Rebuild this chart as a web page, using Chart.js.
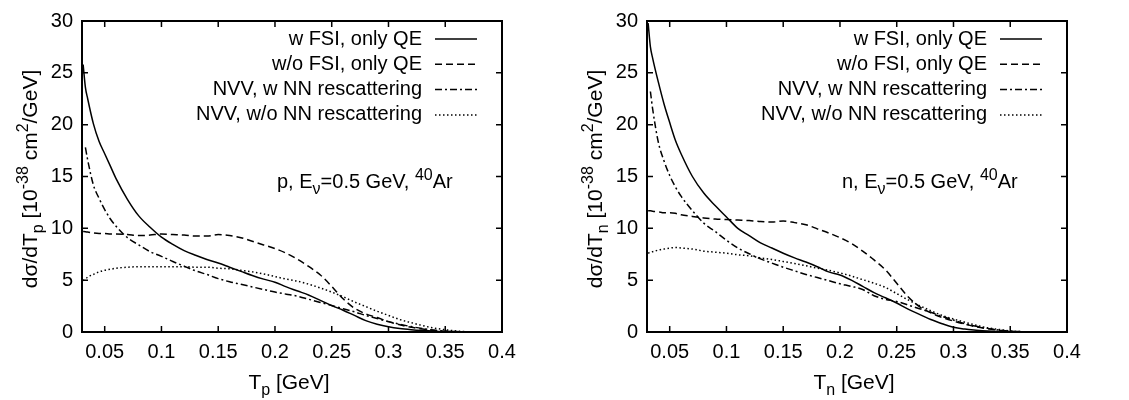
<!DOCTYPE html>
<html>
<head>
<meta charset="utf-8">
<script src="https://cdn.jsdelivr.net/npm/chart.js@4.4.0/dist/chart.umd.min.js"></script>
<style>
  html, body { margin: 0; padding: 0; background: #fff; }
  #wrap { position: relative; width: 1129px; height: 400px; }
  .panel { position: absolute; top: 0; height: 400px; }
  #left { left: 0; width: 565px; }
  #right { left: 565px; width: 564px; }
</style>
</head>
<body>
<div id="wrap">
  <div class="panel" id="left"><canvas id="chartP"></canvas></div>
  <div class="panel" id="right"><canvas id="chartN"></canvas></div>
</div>
<script>
//---------------------------------------- data
// nucleon kinetic energy T [GeV], shared grid for all curves
const tGrid = [0.031, 0.033, 0.035, 0.04, 0.045, 0.05, 0.055, 0.06, 0.07, 0.08, 0.09,
               0.1, 0.11, 0.12, 0.13, 0.14, 0.15, 0.16, 0.17, 0.18, 0.19,
               0.2, 0.21, 0.22, 0.23, 0.24, 0.25, 0.26, 0.27, 0.28, 0.29,
               0.3, 0.31, 0.32, 0.33, 0.34, 0.35, 0.36, 0.37, 0.38];
const xTicks = [0.05, 0.1, 0.15, 0.2, 0.25, 0.3, 0.35, 0.4];
const yTicks = [0, 5, 10, 15, 20, 25, 30];
const seriesNames = ['w FSI, only QE', 'w/o FSI, only QE', 'NVV, w NN rescattering', 'NVV, w/o NN rescattering'];

// proton, E_nu = 0.5 GeV, 40Ar
const pFsiQE   = [25.8, 23.6, 22.5, 20.1, 18.4, 17.2, 16.0, 14.8, 12.8, 11.2, 10.1,
                  9.15, 8.45, 7.85, 7.4, 7.0, 6.65, 6.25, 5.85, 5.45, 5.1,
                  4.8, 4.35, 3.95, 3.55, 3.05, 2.55, 2.1, 1.6, 1.1, 0.75,
                  0.5, 0.33, 0.22, 0.14, 0.08, 0.05, 0.03, 0.02, 0.01];
const pNoFsiQE = [9.7, 9.68, 9.65, 9.55, 9.5, 9.5, 9.45, 9.45, 9.4, 9.3, 9.35,
                  9.45, 9.4, 9.35, 9.25, 9.25, 9.4, 9.3, 9.1, 8.75, 8.4,
                  8.05, 7.6, 7.0, 6.3, 5.5, 4.4, 3.2, 2.3, 1.75, 1.4,
                  1.0, 0.7, 0.45, 0.28, 0.16, 0.08, 0.04, 0.02, 0.01];
const pNvvNN   = [null, 17.8, 16.6, 14.2, 12.9, 11.8, 10.9, 10.2, 9.1, 8.4, 7.75,
                  7.3, 6.8, 6.35, 5.9, 5.55, 5.15, 4.85, 4.6, 4.35, 4.1,
                  3.85, 3.65, 3.45, 3.15, 2.85, 2.55, 2.25, 1.95, 1.6, 1.3,
                  1.0, 0.75, 0.52, 0.33, 0.18, 0.08, 0.03, 0.01, 0];
const pNvvNoNN = [4.95, 5.1, 5.3, 5.55, 5.8, 5.95, 6.05, 6.15, 6.25, 6.3, 6.3,
                  6.3, 6.3, 6.3, 6.25, 6.25, 6.15, 6.1, 5.95, 5.8, 5.6,
                  5.35, 5.1, 4.9, 4.6, 4.25, 3.85, 3.4, 2.9, 2.45, 2.0,
                  1.6, 1.2, 0.9, 0.62, 0.38, 0.22, 0.1, 0.03, 0];

// neutron, E_nu = 0.5 GeV, 40Ar
const nFsiQE   = [29.8, 27.5, 26.4, 24.1, 22.0, 20.2, 18.5, 17.2, 15.0, 13.4, 12.2,
                  11.1, 10.0, 9.3, 8.6, 8.1, 7.6, 7.15, 6.75, 6.3, 5.8,
                  5.5, 5.0, 4.4, 3.8, 3.3, 2.8, 2.2, 1.7, 1.2, 0.8,
                  0.45, 0.28, 0.18, 0.1, 0.05, 0.03, 0.02, 0, 0];
const nNoFsiQE = [11.7, 11.7, 11.65, 11.6, 11.5, 11.5, 11.45, 11.3, 11.15, 11.0, 10.9,
                  10.85, 10.8, 10.75, 10.65, 10.6, 10.7, 10.55, 10.35, 9.95, 9.55,
                  9.1, 8.55, 7.8, 6.95, 6.0, 4.7, 3.4, 2.45, 1.85, 1.4,
                  1.05, 0.75, 0.5, 0.32, 0.18, 0.08, 0.03, 0, 0];
const nNvvNN   = [null, 23.2, 21.5, 18.3, 16.5, 15.1, 14.0, 13.1, 11.7, 10.5, 9.7,
                  8.85, 8.1, 7.55, 7.05, 6.65, 6.25, 5.9, 5.55, 5.25, 4.95,
                  4.65, 4.4, 4.1, 3.5, 3.15, 2.95, 2.6, 2.25, 1.9, 1.5,
                  1.15, 0.8, 0.55, 0.35, 0.2, 0.08, 0.03, 0, 0];
const nNvvNoNN = [7.6, 7.7, 7.75, 7.9, 8.0, 8.1, 8.15, 8.1, 8.0, 7.8, 7.7,
                  7.6, 7.45, 7.35, 7.15, 7.0, 6.8, 6.6, 6.4, 6.15, 5.95,
                  5.7, 5.4, 5.05, 4.7, 4.3, 3.7, 3.1, 2.55, 2.05, 1.6,
                  1.25, 0.95, 0.65, 0.4, 0.25, 0.1, 0.03, 0, 0];
//^^^^^^^^^^^^^^^^^^^^^^^^^^^^^^^^^^^^^^^^ data

const FONT = '"Liberation Sans", Arial, Helvetica, sans-serif';
const FS = 20;
const dashes = [[], [7, 4], [7, 3, 2, 3], [1.5, 2.5]];

// text with sub/superscripts: parts = [[text, mode]], mode '' | 'sub' | 'sup'
function drawRich(ctx, parts, x, y, align, size) {
    const fontOf = m => (m ? Math.round(size * 0.78) : size) + 'px ' + FONT;
    let total = 0;
    parts.forEach(([t, m]) => { ctx.font = fontOf(m); total += ctx.measureText(t).width; });
    let cx = align === 'center' ? x - total / 2 : (align === 'right' ? x - total : x);
    ctx.textAlign = 'left';
    ctx.textBaseline = 'alphabetic';
    parts.forEach(([t, m]) => {
        ctx.font = fontOf(m);
        const dy = m === 'sub' ? size * 0.3 : (m === 'sup' ? -size * 0.42 : 0);
        ctx.fillText(t, cx, y + dy);
        cx += ctx.measureText(t).width;
    });
}

const gnuplotLook = {
    id: 'gnuplotLook',
    afterDraw(chart, args, opts) {
        const ctx = chart.ctx;
        const a = chart.chartArea;
        const xs = chart.scales.x, ys = chart.scales.y;
        ctx.save();
        ctx.strokeStyle = '#000';
        ctx.fillStyle = '#000';
        // frame
        ctx.lineWidth = 2;
        ctx.setLineDash([]);
        ctx.strokeRect(a.left, a.top, a.right - a.left, a.bottom - a.top);
        // inward tick marks on all four sides
        ctx.lineWidth = 1.5;
        ctx.beginPath();
        xTicks.forEach(v => {
            const px = xs.getPixelForValue(v);
            ctx.moveTo(px, a.bottom); ctx.lineTo(px, a.bottom - 6);
            ctx.moveTo(px, a.top); ctx.lineTo(px, a.top + 6);
        });
        yTicks.forEach(v => {
            const py = ys.getPixelForValue(v);
            ctx.moveTo(a.left, py); ctx.lineTo(a.left + 6, py);
            ctx.moveTo(a.right, py); ctx.lineTo(a.right - 6, py);
        });
        ctx.stroke();
        // key, top right
        chart.data.datasets.forEach((ds, i) => {
            const cy = a.top + 18 + i * 25.3;
            ctx.font = FS + 'px ' + FONT;
            ctx.textAlign = 'right';
            ctx.textBaseline = 'middle';
            ctx.fillText(ds.label, a.left + 340, cy);
            ctx.lineWidth = ds.borderWidth;
            ctx.setLineDash(ds.borderDash);
            ctx.beginPath();
            ctx.moveTo(a.left + 353, cy);
            ctx.lineTo(a.left + 395, cy);
            ctx.stroke();
        });
        ctx.setLineDash([]);
        // label inside the plot
        drawRich(ctx, [[opts.nucleon + ', E', ''], ['ν', 'sub'], ['=0.5 GeV, ', ''], ['40', 'sup'], ['Ar', '']],
                 a.left + 195, a.top + 167, 'left', FS);
        // axis titles
        drawRich(ctx, [['T', ''], [opts.nucleon, 'sub'], [' [GeV]', '']], (a.left + a.right) / 2 - 3, 389, 'center', 21);
        ctx.translate(30, 179);
        ctx.rotate(-Math.PI / 2);
        drawRich(ctx, [['dσ/dT', ''], [opts.nucleon, 'sub'], [' [10', ''], ['-38', 'sup'],
                       [' cm', ''], ['2', 'sup'], ['/GeV]', '']], 0, 7, 'center', 21);
        ctx.restore();
    }
};

function makeChart(canvasId, nucleon, curves, width) {
    const datasets = curves.map((ys, i) => ({
        label: seriesNames[i],
        data: tGrid.map((t, k) => ({ x: t, y: ys[k] })),
        borderColor: '#000',
        borderWidth: 1.5,
        borderDash: dashes[i],
        pointRadius: 0,
        fill: false,
        cubicInterpolationMode: 'monotone'
    }));
    return new Chart(document.getElementById(canvasId), {
        type: 'line',
        data: { datasets },
        plugins: [gnuplotLook],
        options: {
            responsive: true,
            maintainAspectRatio: false,
            devicePixelRatio: 1,
            animation: false,
            layout: { padding: { top: 15, right: width - 502, left: 0, bottom: 0 } },
            plugins: {
                legend: { display: false },
                tooltip: { enabled: false },
                gnuplotLook: { nucleon }
            },
            scales: {
                x: {
                    type: 'linear',
                    min: 0.03, max: 0.4,
                    afterBuildTicks: s => { s.ticks = xTicks.map(v => ({ value: v })); },
                    afterFit: s => { s.height = 68; },
                    grid: { display: false, drawTicks: false },
                    border: { display: false },
                    ticks: { color: '#000', font: { family: FONT, size: FS }, padding: 8, maxRotation: 0,
                             callback: v => String(v) }
                },
                y: {
                    min: 0, max: 30,
                    afterBuildTicks: s => { s.ticks = yTicks.map(v => ({ value: v })); },
                    afterFit: s => { s.width = 82; },
                    grid: { display: false, drawTicks: false },
                    border: { display: false },
                    ticks: { color: '#000', font: { family: FONT, size: FS }, padding: 9 }
                }
            }
        }
    });
}

makeChart('chartP', 'p', [pFsiQE, pNoFsiQE, pNvvNN, pNvvNoNN], 565);
makeChart('chartN', 'n', [nFsiQE, nNoFsiQE, nNvvNN, nNvvNoNN], 564);
</script>
</body>
</html>
